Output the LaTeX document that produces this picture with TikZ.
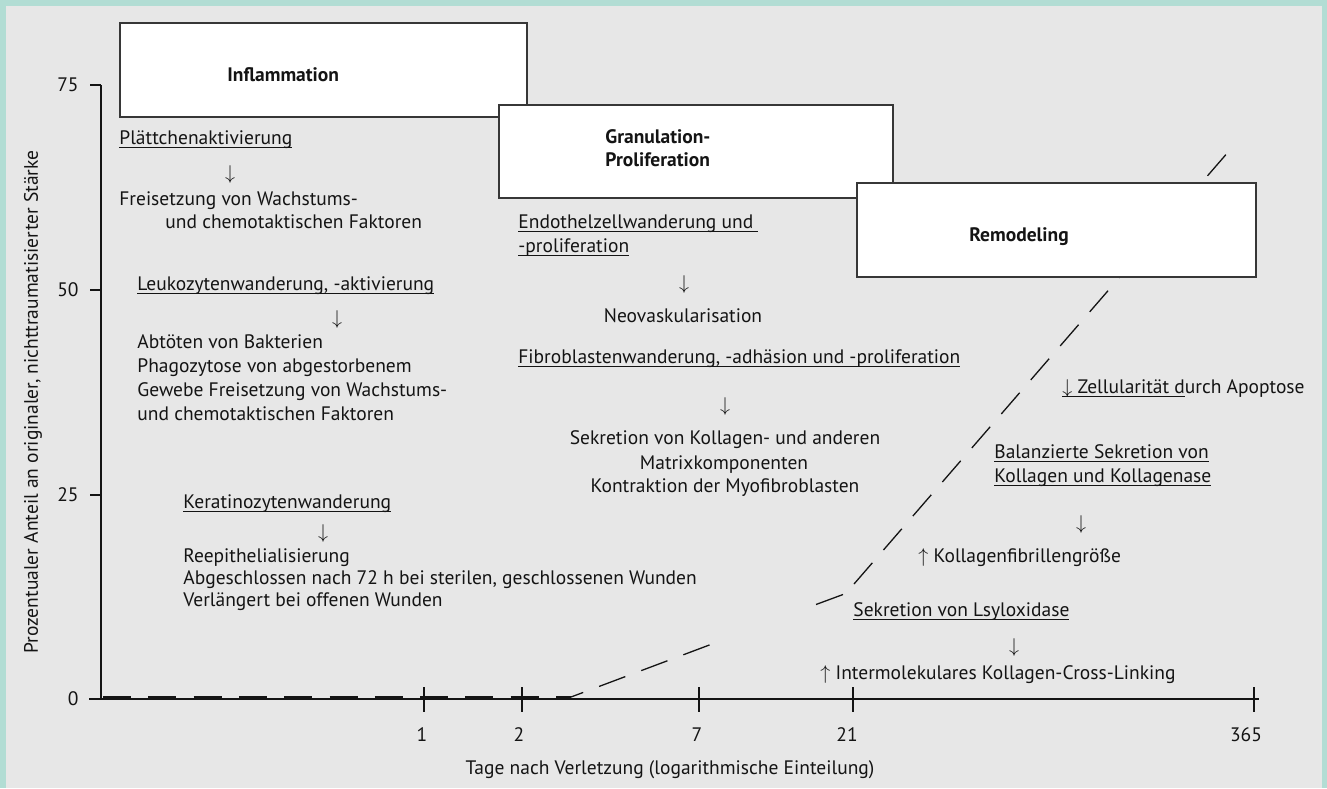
\documentclass[tikz,border=0pt]{standalone}
\usepackage{fontspec}
\setmainfont{PT Sans}
\newsavebox\ulbox
\newcommand\ul[1]{\sbox\ulbox{#1}\rlap{\rule[-1.9pt]{\wd\ulbox}{0.5pt}}\usebox\ulbox}
\definecolor{frameteal}{RGB}{178,221,212}
\definecolor{panelgray}{RGB}{231,231,231}
\definecolor{boxline}{RGB}{55,55,55}
\definecolor{inkcol}{RGB}{20,20,20}
\newcommand\fs{\fontsize{9.75}{12}\selectfont}
\newcommand\dn{$\downarrow$}
\newcommand\up{$\uparrow$}
\tikzset{
  txt/.style={anchor=base west, inner sep=0pt, font=\fs, text=inkcol},
  ctxt/.style={anchor=base, inner sep=0pt, font=\fs, text=inkcol},
  ttl/.style={anchor=base west, inner sep=0pt, font=\fs\bfseries, text=inkcol},
  ticklbl/.style={inner sep=0pt, font=\fs, text=inkcol},
  phasebox/.style={draw=boxline, line width=0.75pt, fill=white, anchor=north west, inner sep=0pt, outer sep=0pt},
  axisline/.style={draw=inkcol, line width=0.75pt},
  flatdash/.style={draw=inkcol, line width=1.25pt, dash pattern=on 14pt off 8.65pt},
  risedash/.style={draw=inkcol, line width=0.65pt, dash pattern=on 14pt off 8.5pt},
}
\begin{document}
\begin{tikzpicture}[x=0.5pt,y=-0.5pt]
\useasboundingbox (0,0) rectangle (1327,788);
\fill[frameteal] (0,0) rectangle (1327,788);
\fill[panelgray] (6,6) rectangle (1322,788);

% axes
\coordinate (yTop) at (101,85);
\coordinate (yBot) at (101,699);
\coordinate (xL) at (89,699);
\coordinate (xR) at (1259,699);
\draw[axisline] (yTop) -- (yBot);
\draw[axisline] (xL) -- (xR);
\foreach \yy/\lab [count=\i] in {85/75,290/50,495/25,699/0}{
  \coordinate (yt\i) at (101,\yy);
  \coordinate (ytl\i) at (90,\yy);
  \draw[axisline] (ytl\i) -- (yt\i);
  \node[ticklbl, anchor=east] (ylab\i) at (79,\yy) {\lab};
}
\foreach \xx/\lx/\lab [count=\i] in {424/422/1,522/519/2,699/697/7,853/847/21,1254/1246/365}{
  \coordinate (xtt\i) at (\xx,687);
  \coordinate (xtb\i) at (\xx,712);
  \draw[axisline] (xtt\i) -- (xtb\i);
  \node[ticklbl, anchor=base] (xlab\i) at (\lx,741) {\lab};
}
\node[ticklbl, anchor=base] (xtitle) at (670,774) {Tage nach Verletzung (logarithmische Einteilung)};
\node[ticklbl, rotate=90] (ytitle) at (33,402) {Prozentualer Anteil an originaler, nichttraumatisierter St\"arke};

% strength curve
\coordinate (c0) at (103,697.5);
\coordinate (c1) at (571,697.5);
\coordinate (c2) at (571,697);
\coordinate (c3) at (712,644);
\coordinate (c4) at (816,604.5);
\coordinate (c5) at (843,594.5);
\coordinate (c6) at (854,584);
\coordinate (c7) at (1229,151);
\draw[flatdash] (c0) -- (c1);
\draw[risedash, dash phase=7.5pt] (c2) -- (c3);
\draw[draw=inkcol, line width=0.65pt] (c4) -- (c5);
\draw[risedash] (c6) -- (c7);

% phase boxes
\node[phasebox, minimum width=203.5pt, minimum height=47pt] (inflbox) at (120,23) {};
\node[phasebox, minimum width=197pt, minimum height=46.5pt] (granbox) at (499,105) {};
\node[phasebox, minimum width=199.5pt, minimum height=47pt] (remobox) at (857,183) {};
\node[ttl] (infltitle) at (227,81) {Inflammation};
\node[ttl] (grantitleA) at (605,143) {Granulation-};
\node[ttl] (grantitleB) at (605,166) {Proliferation};
\node[ttl] (remotitle) at (969,241) {Remodeling};

% Inflammation column
\node[txt] (i1) at (119,144) {\ul{Pl\"attchenaktivierung}};
\node[ctxt] (i2) at (230,179) {\dn};
\node[txt] (i3) at (119,205) {Freisetzung von Wachstums-};
\node[txt] (i4) at (165,228) {und chemotaktischen Faktoren};
\node[txt] (i5) at (137,290) {\ul{Leukozytenwanderung, -aktivierung}};
\node[ctxt] (i6) at (337,324) {\dn};
\node[txt] (i7) at (137,348) {Abt\"oten von Bakterien};
\node[txt] (i8) at (137,372) {Phagozytose von abgestorbenem};
\node[txt] (i9) at (137,396) {Gewebe Freisetzung von Wachstums-};
\node[txt] (i10) at (137,420) {und chemotaktischen Faktoren};
\node[txt] (i11) at (183,508) {\ul{Keratinozytenwanderung}};
\node[ctxt] (i12) at (323,538) {\dn};
\node[txt] (i13) at (183,562) {Reepithelialisierung};
\node[txt] (i14) at (183,584) {Abgeschlossen nach 72 h bei sterilen, geschlossenen Wunden};
\node[txt] (i15) at (183,606) {Verl\"angert bei offenen Wunden};

% Granulation column
\node[txt] (g1) at (518,228) {\ul{Endothelzellwanderung und\ }};
\node[txt] (g2) at (518,252) {\ul{-proliferation}};
\node[ctxt] (g3) at (684,289) {\dn};
\node[ctxt] (g4) at (683,322) {Neovaskularisation};
\node[txt] (g5) at (518,363) {\ul{Fibroblastenwanderung, -adh\"asion und -proliferation}};
\node[ctxt] (g6) at (725,411) {\dn};
\node[ctxt] (g7) at (725,444) {Sekretion von Kollagen- und anderen};
\node[ctxt] (g8) at (724,469) {Matrixkomponenten};
\node[ctxt] (g9) at (725,492) {Kontraktion der Myofibroblasten};

% Remodeling column
\node[txt] (r1) at (1062,393) {\ul{\dn\ Zellularit\"at d}urch Apoptose};
\node[txt] (r2) at (994,458) {\ul{Balanzierte Sekretion von}};
\node[txt] (r3) at (994,482) {\ul{Kollagen und Kollagenase}};
\node[ctxt] (r4) at (1081,529) {\dn};
\node[txt] (r5) at (918,562) {\up\ Kollagenfibrillengr\"o\ss e};
\node[txt] (r6) at (853,616) {\ul{Sekretion von Lsyloxidase}};
\node[ctxt] (r7) at (1014,652) {\dn};
\node[txt] (r8) at (820,679) {\up\ Intermolekulares Kollagen-Cross-Linking};
\end{tikzpicture}
\end{document}
